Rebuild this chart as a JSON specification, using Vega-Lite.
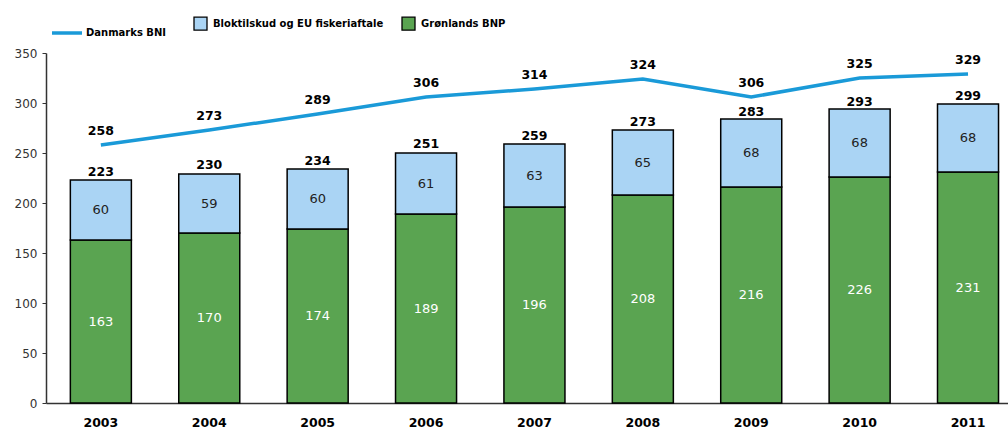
{
  "$schema": "https://vega.github.io/schema/vega-lite/v6.json",
  "width": 962,
  "height": 350,
  "autosize": {"type": "none"},
  "padding": {"left": 46, "top": 53, "right": 0, "bottom": 25},
  "background": "white",
  "config": {"view": {"stroke": null}, "font": "DejaVu Sans"},
  "datasets": {
    "segments": [
      {"year": "2003", "series": "Grønlands BNP", "value": 163},
      {"year": "2003", "series": "Bloktilskud og EU fiskeriaftale", "value": 60},
      {"year": "2004", "series": "Grønlands BNP", "value": 170},
      {"year": "2004", "series": "Bloktilskud og EU fiskeriaftale", "value": 59},
      {"year": "2005", "series": "Grønlands BNP", "value": 174},
      {"year": "2005", "series": "Bloktilskud og EU fiskeriaftale", "value": 60},
      {"year": "2006", "series": "Grønlands BNP", "value": 189},
      {"year": "2006", "series": "Bloktilskud og EU fiskeriaftale", "value": 61},
      {"year": "2007", "series": "Grønlands BNP", "value": 196},
      {"year": "2007", "series": "Bloktilskud og EU fiskeriaftale", "value": 63},
      {"year": "2008", "series": "Grønlands BNP", "value": 208},
      {"year": "2008", "series": "Bloktilskud og EU fiskeriaftale", "value": 65},
      {"year": "2009", "series": "Grønlands BNP", "value": 216},
      {"year": "2009", "series": "Bloktilskud og EU fiskeriaftale", "value": 68},
      {"year": "2010", "series": "Grønlands BNP", "value": 226},
      {"year": "2010", "series": "Bloktilskud og EU fiskeriaftale", "value": 68},
      {"year": "2011", "series": "Grønlands BNP", "value": 231},
      {"year": "2011", "series": "Bloktilskud og EU fiskeriaftale", "value": 68}
    ],
    "totals": [
      {"year": "2003", "total": 223, "bni": 258},
      {"year": "2004", "total": 230, "bni": 273},
      {"year": "2005", "total": 234, "bni": 289},
      {"year": "2006", "total": 251, "bni": 306},
      {"year": "2007", "total": 259, "bni": 314},
      {"year": "2008", "total": 273, "bni": 324},
      {"year": "2009", "total": 283, "bni": 306},
      {"year": "2010", "total": 293, "bni": 325},
      {"year": "2011", "total": 299, "bni": 329}
    ]
  },
  "encoding": {
    "x": {
      "field": "year",
      "type": "nominal",
      "scale": {"paddingInner": 0.437, "paddingOuter": 0.156, "align": 0.72},
      "axis": {
        "title": null,
        "ticks": false,
        "labelAngle": 0,
        "labelFontWeight": "bold",
        "labelFontSize": 12.5,
        "labelColor": "black",
        "labelPadding": 13,
        "domainColor": "#333333",
        "domainWidth": 1.5
      }
    }
  },
  "layer": [
    {
      "data": {"name": "segments"},
      "transform": [
        {"stack": "value", "groupby": ["year"], "sort": [{"field": "series", "order": "descending"}], "as": ["y0", "y1"]}
      ],
      "mark": {"type": "bar", "stroke": "black", "strokeWidth": 1.5},
      "encoding": {
        "y": {
          "field": "y0",
          "type": "quantitative",
          "scale": {"domain": [0, 350]},
          "axis": {
            "title": null,
            "values": [0, 50, 100, 150, 200, 250, 300, 350],
            "grid": false,
            "domainColor": "#333333",
            "domainWidth": 1.5,
            "tickColor": "#333333",
            "tickSize": 4,
            "labelColor": "#333333",
            "labelFontSize": 12,
            "labelPadding": 5
          }
        },
        "y2": {"field": "y1"},
        "fill": {
          "field": "series",
          "type": "nominal",
          "scale": {"domain": ["Bloktilskud og EU fiskeriaftale", "Grønlands BNP"], "range": ["#aad4f4", "#5aa451"]},
          "legend": {
            "title": null,
            "orient": "none",
            "legendX": 147,
            "legendY": -37,
            "direction": "horizontal",
            "symbolType": "square",
            "symbolSize": 169,
            "symbolStrokeColor": "black",
            "symbolStrokeWidth": 1.3,
            "labelFontSize": 10,
            "labelFontWeight": "bold",
            "labelColor": "black",
            "labelOffset": 5,
            "labelLimit": 400,
            "columnPadding": 15
          }
        }
      }
    },
    {
      "data": {"name": "segments"},
      "transform": [
        {"stack": "value", "groupby": ["year"], "sort": [{"field": "series", "order": "descending"}], "as": ["y0", "y1"]},
        {"calculate": "(datum.y0 + datum.y1) / 2", "as": "mid"}
      ],
      "mark": {"type": "text", "fontSize": 13, "baseline": "middle"},
      "encoding": {
        "y": {"field": "mid", "type": "quantitative"},
        "text": {"field": "value", "type": "quantitative"},
        "color": {"condition": {"test": "datum.series === 'Grønlands BNP'", "value": "white"}, "value": "#222222"}
      }
    },
    {
      "data": {"name": "totals"},
      "mark": {"type": "text", "fontSize": 12.5, "fontWeight": "bold", "baseline": "alphabetic", "dy": -4.5, "color": "black"},
      "encoding": {
        "y": {"field": "total", "type": "quantitative"},
        "text": {"field": "total", "type": "quantitative"}
      }
    },
    {
      "data": {"name": "totals"},
      "mark": {"type": "line", "strokeWidth": 3.5},
      "encoding": {
        "y": {"field": "bni", "type": "quantitative"},
        "stroke": {
          "datum": "Danmarks BNI",
          "type": "nominal",
          "scale": {"range": ["#1a9ad8"]},
          "legend": {
            "title": null,
            "orient": "none",
            "legendX": 4,
            "legendY": -37,
            "symbolType": "stroke",
            "symbolSize": 900,
            "symbolStrokeWidth": 3.5,
            "labelFontSize": 10,
            "labelFontWeight": "bold",
            "labelColor": "black",
            "labelOffset": 2,
            "labelLimit": 400
          }
        }
      }
    },
    {
      "data": {"name": "totals"},
      "mark": {"type": "text", "fontSize": 12.5, "fontWeight": "bold", "baseline": "alphabetic", "dy": -10.5, "color": "black"},
      "encoding": {
        "y": {"field": "bni", "type": "quantitative"},
        "text": {"field": "bni", "type": "quantitative"}
      }
    }
  ]
}
